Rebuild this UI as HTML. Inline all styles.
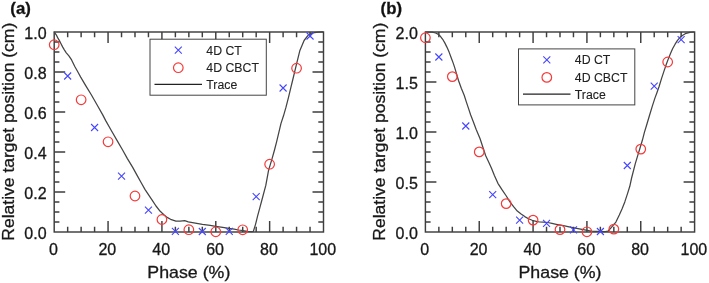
<!DOCTYPE html><html><head><meta charset="utf-8"><style>html,body{margin:0;padding:0;background:#fff;width:709px;height:283px;overflow:hidden}svg{display:block;filter:blur(0.35px)}text{font-family:"Liberation Sans",sans-serif;stroke:#181818;stroke-width:0.3px}</style></head><body>
<svg width="709" height="283" viewBox="0 0 709 283">
<rect width="709" height="283" fill="#fff"/>
<path d="M67.67 232V226.8M67.67 32V37.2M81.13 232V226.8M81.13 32V37.2M94.59 232V226.8M94.59 32V37.2M108.06 232V221M108.06 32V43M121.53 232V226.8M121.53 32V37.2M134.99 232V226.8M134.99 32V37.2M148.45 232V226.8M148.45 32V37.2M161.92 232V221M161.92 32V43M175.38 232V226.8M175.38 32V37.2M188.85 232V226.8M188.85 32V37.2M202.31 232V226.8M202.31 32V37.2M215.78 232V221M215.78 32V43M229.25 232V226.8M229.25 32V37.2M242.71 232V226.8M242.71 32V37.2M256.18 232V226.8M256.18 32V37.2M269.64 232V221M269.64 32V43M283.11 232V226.8M283.11 32V37.2M296.57 232V226.8M296.57 32V37.2M310.04 232V226.8M310.04 32V37.2M54.2 222H59.4M323.5 222H318.3M54.2 212H59.4M323.5 212H318.3M54.2 202H59.4M323.5 202H318.3M54.2 192H65.2M323.5 192H312.5M54.2 182H59.4M323.5 182H318.3M54.2 172H59.4M323.5 172H318.3M54.2 162H59.4M323.5 162H318.3M54.2 152H65.2M323.5 152H312.5M54.2 142H59.4M323.5 142H318.3M54.2 132H59.4M323.5 132H318.3M54.2 122H59.4M323.5 122H318.3M54.2 112H65.2M323.5 112H312.5M54.2 102H59.4M323.5 102H318.3M54.2 92H59.4M323.5 92H318.3M54.2 82H59.4M323.5 82H318.3M54.2 72H65.2M323.5 72H312.5M54.2 62H59.4M323.5 62H318.3M54.2 52H59.4M323.5 52H318.3M54.2 42H59.4M323.5 42H318.3" stroke="#3e3e3e" stroke-width="1.45" fill="none"/>
<rect x="54.2" y="32" width="269.3" height="200" stroke="#3e3e3e" stroke-width="1.45" fill="none"/>
<polyline points="54.2,31.8 56.2,34.8 57.8,37.9 59.4,40.6 61,43.8 62.6,46.9 64.2,49.6 66.3,52.8 68.9,55.9 71.6,59.9 74.8,66.5 78.3,72.7 80.7,77.1 85.7,85.6 91.3,94.8 97,104.7 102.6,114.6 105.7,120.6 111.3,130.5 117,140.4 122.6,150 127.4,158.6 132.7,167.4 137.1,175.4 141.5,183.3 145.1,189.6 148.6,194.9 152.3,200.4 156,206 160.2,211.3 163.9,214.8 167.1,217.4 170.6,219.3 175.9,221.1 180.3,221.1 184.7,220.7 188.3,221.8 195.3,223.1 202.4,224.4 210.2,225.4 215.6,226.3 222.7,227.4 228.9,228.4 234.2,229.1 238.6,230 243,230.7 247.4,231.4 251.8,231.6 253.4,231.3 255.6,224.1 257.7,215.6 259.8,207.8 261.9,200 265.8,185.4 268.6,170.2 270.2,164.9 271.8,159.6 274.5,150 276.6,141.9 281,123.4 283.5,115.8 286,107.2 288.5,97.3 290.9,87.4 292.7,80 296.4,64.6 299.9,50.4 304.1,40.5 308.4,34.9 312.6,32.8 318.3,32.1 323.2,31.8" stroke="#444" stroke-width="1.25" fill="none" stroke-linejoin="round"/>
<circle cx="54.2" cy="44.7" r="4.8" stroke="#f53a3a" stroke-width="1.2" fill="none"/>
<circle cx="81.13" cy="99.8" r="4.8" stroke="#f53a3a" stroke-width="1.2" fill="none"/>
<circle cx="108.06" cy="141.8" r="4.8" stroke="#f53a3a" stroke-width="1.2" fill="none"/>
<circle cx="134.99" cy="196" r="4.8" stroke="#f53a3a" stroke-width="1.2" fill="none"/>
<circle cx="161.92" cy="219.5" r="4.8" stroke="#f53a3a" stroke-width="1.2" fill="none"/>
<circle cx="188.85" cy="229.7" r="4.8" stroke="#f53a3a" stroke-width="1.2" fill="none"/>
<circle cx="215.78" cy="231.8" r="4.8" stroke="#f53a3a" stroke-width="1.2" fill="none"/>
<circle cx="242.71" cy="229.8" r="4.8" stroke="#f53a3a" stroke-width="1.2" fill="none"/>
<circle cx="269.64" cy="164.2" r="4.8" stroke="#f53a3a" stroke-width="1.2" fill="none"/>
<circle cx="296.57" cy="68.2" r="4.8" stroke="#f53a3a" stroke-width="1.2" fill="none"/>
<path d="M64.17 72.5L71.17 79.5M64.17 79.5L71.17 72.5M91.09 124L98.09 131M91.09 131L98.09 124M118.03 172.7L125.03 179.7M118.03 179.7L125.03 172.7M144.95 206.6L151.95 213.6M144.95 213.6L151.95 206.6M171.88 227.9L178.88 234.9M171.88 234.9L178.88 227.9M198.81 228L205.81 235M198.81 235L205.81 228M225.75 227.9L232.75 234.9M225.75 234.9L232.75 227.9M252.68 193.1L259.68 200.1M252.68 200.1L259.68 193.1M279.61 84.5L286.61 91.5M279.61 91.5L286.61 84.5M306.54 32.5L313.54 39.5M306.54 39.5L313.54 32.5" stroke="#4646ff" stroke-width="1.1" fill="none"/>
<text x="46.6" y="238.6" font-size="16" fill="#181818" text-anchor="end">0.0</text>
<text x="46.6" y="198.6" font-size="16" fill="#181818" text-anchor="end">0.2</text>
<text x="46.6" y="158.6" font-size="16" fill="#181818" text-anchor="end">0.4</text>
<text x="46.6" y="118.6" font-size="16" fill="#181818" text-anchor="end">0.6</text>
<text x="46.6" y="78.6" font-size="16" fill="#181818" text-anchor="end">0.8</text>
<text x="46.6" y="38.6" font-size="16" fill="#181818" text-anchor="end">1.0</text>
<text x="53.5" y="255" font-size="16" fill="#181818" text-anchor="middle">0</text>
<text x="107.36" y="255" font-size="16" fill="#181818" text-anchor="middle">20</text>
<text x="161.22" y="255" font-size="16" fill="#181818" text-anchor="middle">40</text>
<text x="215.08" y="255" font-size="16" fill="#181818" text-anchor="middle">60</text>
<text x="268.94" y="255" font-size="16" fill="#181818" text-anchor="middle">80</text>
<text x="322.8" y="255" font-size="16" fill="#181818" text-anchor="middle">100</text>
<text x="188.85" y="277.5" font-size="16.6" fill="#181818" text-anchor="middle" textLength="83" lengthAdjust="spacingAndGlyphs">Phase (%)</text>
<text transform="translate(13.8,131.7) rotate(-90)" font-size="16.6" fill="#181818" text-anchor="middle" textLength="218" lengthAdjust="spacingAndGlyphs">Relative target position (cm)</text>
<text x="10.3" y="14" font-size="16.8" font-weight="bold" fill="#111">(a)</text>
<rect x="150" y="39.2" width="116.3" height="56" stroke="#444" stroke-width="1" fill="#fff"/>
<path d="M174.8 46.6L181.8 53.6M174.8 53.6L181.8 46.6" stroke="#4646ff" stroke-width="1.1"/>
<circle cx="178.3" cy="67.7" r="4.8" stroke="#f53a3a" stroke-width="1.2" fill="none"/>
<path d="M154.5 84.4H202" stroke="#222" stroke-width="1.3"/>
<text x="206.3" y="54.5" font-size="12.3" fill="#222" style="stroke-width:0.1px">4D CT</text>
<text x="206.3" y="72.1" font-size="12.3" fill="#222" style="stroke-width:0.1px">4D CBCT</text>
<text x="206.3" y="88.8" font-size="12.3" fill="#222" style="stroke-width:0.1px">Trace</text>
<path d="M438.86 232V226.8M438.86 32V37.2M452.32 232V226.8M452.32 32V37.2M465.78 232V226.8M465.78 32V37.2M479.24 232V221M479.24 32V43M492.7 232V226.8M492.7 32V37.2M506.16 232V226.8M506.16 32V37.2M519.62 232V226.8M519.62 32V37.2M533.08 232V221M533.08 32V43M546.54 232V226.8M546.54 32V37.2M560 232V226.8M560 32V37.2M573.46 232V226.8M573.46 32V37.2M586.92 232V221M586.92 32V43M600.38 232V226.8M600.38 32V37.2M613.84 232V226.8M613.84 32V37.2M627.3 232V226.8M627.3 32V37.2M640.76 232V221M640.76 32V43M654.22 232V226.8M654.22 32V37.2M667.68 232V226.8M667.68 32V37.2M681.14 232V226.8M681.14 32V37.2M425.4 222H430.6M694.6 222H689.4M425.4 212H430.6M694.6 212H689.4M425.4 202H430.6M694.6 202H689.4M425.4 192H430.6M694.6 192H689.4M425.4 182H436.4M694.6 182H683.6M425.4 172H430.6M694.6 172H689.4M425.4 162H430.6M694.6 162H689.4M425.4 152H430.6M694.6 152H689.4M425.4 142H430.6M694.6 142H689.4M425.4 132H436.4M694.6 132H683.6M425.4 122H430.6M694.6 122H689.4M425.4 112H430.6M694.6 112H689.4M425.4 102H430.6M694.6 102H689.4M425.4 92H430.6M694.6 92H689.4M425.4 82H436.4M694.6 82H683.6M425.4 72H430.6M694.6 72H689.4M425.4 62H430.6M694.6 62H689.4M425.4 52H430.6M694.6 52H689.4M425.4 42H430.6M694.6 42H689.4" stroke="#3e3e3e" stroke-width="1.45" fill="none"/>
<rect x="425.4" y="32" width="269.2" height="200" stroke="#3e3e3e" stroke-width="1.45" fill="none"/>
<polyline points="425.3,32.2 432.1,32.2 435.6,33 438.4,34.4 440.6,36.5 442.7,39.3 444.8,42.9 446.9,47.1 449.1,52.1 451.2,57.7 453.3,63.4 454.7,67.6 456.4,73.4 458.5,80.5 461.3,88.3 464.2,95.2 466.4,102.1 468.5,108.4 470.6,114.8 473.4,121.9 476.3,129.7 480,138.5 482.8,147 485.6,155.5 488.9,162.5 491.6,168.6 494.4,175.6 497.9,183.3 502.3,190.2 506.3,196 509.9,201.8 513.6,206.7 517.3,211.1 521.1,214.1 524.8,216.6 528.5,218.7 532.2,220.3 537.2,221.6 539.6,222 543.5,222.2 547.7,222.5 552,223.4 556.2,224.3 560.5,225.2 564.7,225.9 569,226.8 574,227.8 580.6,229.1 585.9,230.2 591.2,231.1 596.5,231.3 601.8,231.5 605.3,231.5 608,231.1 610.6,228.3 613.3,225.2 615.9,222.1 619.3,215 622,209 624.8,201.9 627.6,193.4 629.8,186.3 631.6,178 635.3,163.6 637.7,155.6 640.1,147.7 642.5,139.8 644.4,132.4 647.1,123.5 649.7,114.7 652.4,105.9 655,97.9 657,92.5 659.1,86.5 661.5,78.6 663.9,71.4 666.3,64.3 668.7,57.9 670.5,53.5 672.7,48.5 675.1,44.2 677.5,40.4 679.9,37.6 682.8,35.2 686.1,33.3 689.9,32.3 694.2,32" stroke="#444" stroke-width="1.25" fill="none" stroke-linejoin="round"/>
<circle cx="425.4" cy="37.7" r="4.8" stroke="#f53a3a" stroke-width="1.2" fill="none"/>
<circle cx="452.32" cy="76.6" r="4.8" stroke="#f53a3a" stroke-width="1.2" fill="none"/>
<circle cx="479.24" cy="151.9" r="4.8" stroke="#f53a3a" stroke-width="1.2" fill="none"/>
<circle cx="506.16" cy="203.6" r="4.8" stroke="#f53a3a" stroke-width="1.2" fill="none"/>
<circle cx="533.08" cy="220.1" r="4.8" stroke="#f53a3a" stroke-width="1.2" fill="none"/>
<circle cx="560" cy="229.6" r="4.8" stroke="#f53a3a" stroke-width="1.2" fill="none"/>
<circle cx="586.92" cy="231.8" r="4.8" stroke="#f53a3a" stroke-width="1.2" fill="none"/>
<circle cx="613.84" cy="229.1" r="4.8" stroke="#f53a3a" stroke-width="1.2" fill="none"/>
<circle cx="640.76" cy="149.1" r="4.8" stroke="#f53a3a" stroke-width="1.2" fill="none"/>
<circle cx="667.68" cy="62" r="4.8" stroke="#f53a3a" stroke-width="1.2" fill="none"/>
<path d="M435.36 53.5L442.36 60.5M435.36 60.5L442.36 53.5M462.28 122.5L469.28 129.5M462.28 129.5L469.28 122.5M489.2 191.2L496.2 198.2M489.2 198.2L496.2 191.2M516.12 216.7L523.12 223.7M516.12 223.7L523.12 216.7M543.04 219.9L550.04 226.9M543.04 226.9L550.04 219.9M569.96 226.3L576.96 233.3M569.96 233.3L576.96 226.3M596.88 228L603.88 235M596.88 235L603.88 228M623.8 162L630.8 169M623.8 169L630.8 162M650.72 82.6L657.72 89.6M650.72 89.6L657.72 82.6M677.64 36.2L684.64 43.2M677.64 43.2L684.64 36.2" stroke="#4646ff" stroke-width="1.1" fill="none"/>
<text x="417.8" y="238.6" font-size="16" fill="#181818" text-anchor="end">0.0</text>
<text x="417.8" y="188.6" font-size="16" fill="#181818" text-anchor="end">0.5</text>
<text x="417.8" y="138.6" font-size="16" fill="#181818" text-anchor="end">1.0</text>
<text x="417.8" y="88.6" font-size="16" fill="#181818" text-anchor="end">1.5</text>
<text x="417.8" y="38.6" font-size="16" fill="#181818" text-anchor="end">2.0</text>
<text x="424.7" y="255" font-size="16" fill="#181818" text-anchor="middle">0</text>
<text x="478.54" y="255" font-size="16" fill="#181818" text-anchor="middle">20</text>
<text x="532.38" y="255" font-size="16" fill="#181818" text-anchor="middle">40</text>
<text x="586.22" y="255" font-size="16" fill="#181818" text-anchor="middle">60</text>
<text x="640.06" y="255" font-size="16" fill="#181818" text-anchor="middle">80</text>
<text x="693.9" y="255" font-size="16" fill="#181818" text-anchor="middle">100</text>
<text x="560" y="277.5" font-size="16.6" fill="#181818" text-anchor="middle" textLength="83" lengthAdjust="spacingAndGlyphs">Phase (%)</text>
<text transform="translate(385,131.7) rotate(-90)" font-size="16.6" fill="#181818" text-anchor="middle" textLength="218" lengthAdjust="spacingAndGlyphs">Relative target position (cm)</text>
<text x="380.6" y="14" font-size="16.8" font-weight="bold" fill="#111">(b)</text>
<rect x="518.5" y="48.9" width="116.3" height="56" stroke="#444" stroke-width="1" fill="#fff"/>
<path d="M543.3 56.3L550.3 63.3M543.3 63.3L550.3 56.3" stroke="#4646ff" stroke-width="1.1"/>
<circle cx="546.8" cy="77.4" r="4.8" stroke="#f53a3a" stroke-width="1.2" fill="none"/>
<path d="M523 94.1H570.5" stroke="#222" stroke-width="1.3"/>
<text x="574.8" y="64.2" font-size="12.3" fill="#222" style="stroke-width:0.1px">4D CT</text>
<text x="574.8" y="81.8" font-size="12.3" fill="#222" style="stroke-width:0.1px">4D CBCT</text>
<text x="574.8" y="98.5" font-size="12.3" fill="#222" style="stroke-width:0.1px">Trace</text>
</svg></body></html>
